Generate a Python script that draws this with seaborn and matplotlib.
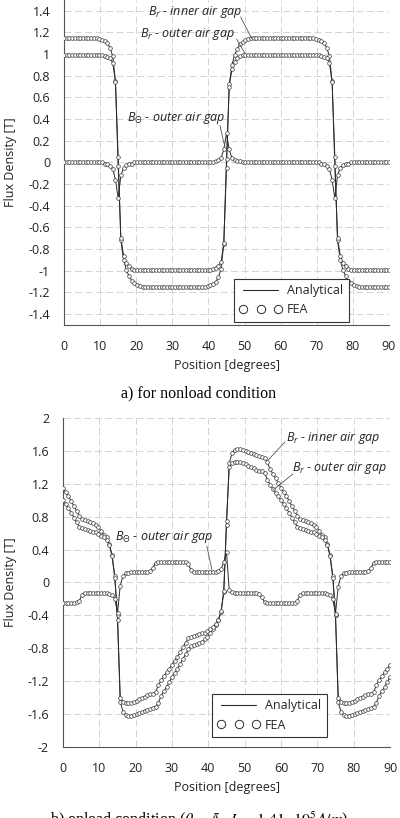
import numpy as np
import pandas as pd
import matplotlib
matplotlib.use("Agg")
import matplotlib.pyplot as plt
from matplotlib.lines import Line2D
from matplotlib.ticker import MultipleLocator, FixedLocator, FixedFormatter
import seaborn as sns

# field samples every 0.75 deg over one 90 deg section
position = np.arange(121) * 0.75

# a) nonload condition
br_inner_nl = [1.15, 1.15, 1.15, 1.15, 1.15, 1.15, 1.15, 1.15, 1.15, 1.15, 1.15, 1.15, 1.15,
               1.14, 1.13, 1.12, 1.10, 1.06, 0.98, 0.75,
               0.05,
               -0.72, -0.90, -0.99, -1.05, -1.09, -1.11, -1.13, -1.14,
               -1.15, -1.15, -1.15, -1.15, -1.15, -1.15, -1.15, -1.15, -1.15, -1.15, -1.15, -1.15,
               -1.15, -1.15, -1.15, -1.15, -1.15, -1.15, -1.15, -1.15, -1.15, -1.15, -1.15, -1.15,
               -1.14, -1.13, -1.12, -1.10, -1.06, -0.98, -0.75,
               -0.05,
               0.72, 0.90, 0.99, 1.05, 1.09, 1.11, 1.13, 1.14,
               1.15, 1.15, 1.15, 1.15, 1.15, 1.15, 1.15, 1.15, 1.15, 1.15, 1.15, 1.15,
               1.15, 1.15, 1.15, 1.15, 1.15, 1.15, 1.15, 1.15, 1.15, 1.15, 1.15, 1.15,
               1.14, 1.13, 1.12, 1.10, 1.06, 0.98, 0.75,
               0.05,
               -0.72, -0.90, -0.99, -1.05, -1.09, -1.11, -1.13, -1.14,
               -1.15, -1.15, -1.15, -1.15, -1.15, -1.15, -1.15, -1.15, -1.15, -1.15, -1.15, -1.15]
br_outer_nl = [0.99, 0.99, 0.99, 0.99, 0.99, 0.99, 0.99, 0.99, 0.99, 0.99, 0.99, 0.99, 0.99, 0.99, 0.99,
               0.98, 0.97, 0.96, 0.92, 0.74,
               -0.03,
               -0.70, -0.86, -0.93, -0.96, -0.98,
               -0.99, -0.99, -0.99, -0.99, -0.99, -0.99, -0.99, -0.99, -0.99, -0.99, -0.99, -0.99, -0.99, -0.99, -0.99,
               -0.99, -0.99, -0.99, -0.99, -0.99, -0.99, -0.99, -0.99, -0.99, -0.99, -0.99, -0.99, -0.99, -0.99,
               -0.98, -0.97, -0.96, -0.92, -0.74,
               0.03,
               0.70, 0.86, 0.93, 0.96, 0.98,
               0.99, 0.99, 0.99, 0.99, 0.99, 0.99, 0.99, 0.99, 0.99, 0.99, 0.99, 0.99, 0.99, 0.99, 0.99,
               0.99, 0.99, 0.99, 0.99, 0.99, 0.99, 0.99, 0.99, 0.99, 0.99, 0.99, 0.99, 0.99, 0.99,
               0.98, 0.97, 0.96, 0.92, 0.74,
               -0.03,
               -0.70, -0.86, -0.93, -0.96, -0.98,
               -0.99, -0.99, -0.99, -0.99, -0.99, -0.99, -0.99, -0.99, -0.99, -0.99, -0.99, -0.99, -0.99, -0.99, -0.99]
bt_outer_nl = [0.00, 0.00, 0.00, 0.00, 0.00, 0.00, 0.00, 0.00, 0.00, 0.00, 0.00, 0.00, 0.00, 0.00, 0.00,
               -0.01, -0.01, -0.03, -0.06, -0.16,
               -0.33,
               -0.12, -0.05, -0.02, -0.01, -0.01,
               0.00, 0.00, 0.00, 0.00, 0.00, 0.00, 0.00, 0.00, 0.00, 0.00, 0.00, 0.00, 0.00, 0.00, 0.00,
               0.00, 0.00, 0.00, 0.00, 0.00, 0.00, 0.00, 0.00, 0.00, 0.00, 0.00, 0.00, 0.00, 0.00,
               0.00, 0.01, 0.02, 0.04, 0.12,
               0.27,
               0.12, 0.04, 0.02, 0.01, 0.01,
               0.00, 0.00, 0.00, 0.00, 0.00, 0.00, 0.00, 0.00, 0.00, 0.00, 0.00, 0.00, 0.00, 0.00, 0.00,
               0.00, 0.00, 0.00, 0.00, 0.00, 0.00, 0.00, 0.00, 0.00, 0.00, 0.00, 0.00, 0.00, 0.00,
               -0.01, -0.01, -0.03, -0.06, -0.16,
               -0.33,
               -0.12, -0.05, -0.02, -0.01, -0.01,
               0.00, 0.00, 0.00, 0.00, 0.00, 0.00, 0.00, 0.00, 0.00, 0.00, 0.00, 0.00, 0.00, 0.00, 0.00]

# b) onload condition
br_inner_ld = [1.15, 1.10, 1.05, 0.99, 0.93, 0.87, 0.81, 0.77, 0.76, 0.75,
               0.74, 0.72, 0.70, 0.67, 0.63, 0.58, 0.55, 0.47, 0.33, 0.08,
               -0.45,
               -1.45, -1.57, -1.61, -1.62, -1.62, -1.61, -1.60, -1.59, -1.57, -1.56,
               -1.55, -1.54, -1.52, -1.51, -1.46, -1.38, -1.32, -1.27, -1.21, -1.15,
               -1.10, -1.05, -0.99, -0.93, -0.87, -0.81, -0.77, -0.76, -0.75, -0.74,
               -0.72, -0.69, -0.66, -0.62, -0.57, -0.52, -0.46, -0.36, -0.12,
               0.70,
               1.45, 1.57, 1.61, 1.62, 1.62, 1.61, 1.60, 1.59, 1.57, 1.56,
               1.55, 1.54, 1.52, 1.51, 1.46, 1.38, 1.32, 1.27, 1.21, 1.15,
               1.10, 1.05, 0.99, 0.93, 0.87, 0.81, 0.77, 0.76, 0.75, 0.74,
               0.72, 0.70, 0.67, 0.63, 0.58, 0.55, 0.47, 0.33, 0.08,
               -0.40,
               -1.45, -1.57, -1.61, -1.62, -1.62, -1.61, -1.60, -1.59, -1.57, -1.56,
               -1.55, -1.54, -1.52, -1.51, -1.46, -1.38, -1.32, -1.27, -1.21, -1.15]
br_outer_ld = [1.00, 0.95, 0.90, 0.85, 0.79, 0.73, 0.68, 0.66, 0.65, 0.64,
               0.63, 0.62, 0.61, 0.59, 0.57, 0.55, 0.52, 0.46, 0.32, 0.06,
               -0.40,
               -1.40, -1.45, -1.47, -1.47, -1.46, -1.45, -1.44, -1.42, -1.40, -1.39,
               -1.37, -1.36, -1.35, -1.33, -1.25, -1.19, -1.14, -1.09, -1.05, -1.00,
               -0.95, -0.90, -0.85, -0.79, -0.73, -0.68, -0.66, -0.65, -0.64, -0.63,
               -0.62, -0.61, -0.59, -0.57, -0.54, -0.50, -0.45, -0.35, -0.10,
               0.75,
               1.40, 1.45, 1.47, 1.47, 1.46, 1.45, 1.44, 1.42, 1.40, 1.39,
               1.37, 1.36, 1.35, 1.33, 1.25, 1.19, 1.14, 1.09, 1.05, 1.00,
               0.95, 0.90, 0.85, 0.79, 0.73, 0.68, 0.66, 0.65, 0.64, 0.63,
               0.62, 0.61, 0.59, 0.57, 0.55, 0.52, 0.46, 0.32, 0.06,
               -0.40,
               -1.40, -1.45, -1.47, -1.47, -1.46, -1.45, -1.44, -1.42, -1.40, -1.39,
               -1.37, -1.36, -1.35, -1.33, -1.25, -1.19, -1.14, -1.09, -1.05, -1.00]
bt_outer_ld = [-0.25, -0.25, -0.25, -0.25, -0.25, -0.24, -0.22, -0.15, -0.13, -0.13,
               -0.13, -0.13, -0.13, -0.13, -0.13, -0.13, -0.13, -0.14, -0.15, -0.20,
               -0.37,
               -0.04, 0.08, 0.11, 0.12, 0.13, 0.13, 0.13, 0.13, 0.13, 0.13,
               0.13, 0.14, 0.18, 0.24, 0.25, 0.25, 0.25, 0.25, 0.25, 0.25,
               0.25, 0.25, 0.25, 0.25, 0.25, 0.22, 0.15, 0.13, 0.13, 0.13,
               0.13, 0.13, 0.13, 0.13, 0.13, 0.13, 0.14, 0.16, 0.25,
               0.37,
               -0.09, -0.12, -0.13, -0.13, -0.13, -0.13, -0.13, -0.13, -0.13, -0.13,
               -0.13, -0.14, -0.18, -0.24, -0.25, -0.25, -0.25, -0.25, -0.25, -0.25,
               -0.25, -0.25, -0.25, -0.25, -0.25, -0.22, -0.15, -0.13, -0.13, -0.13,
               -0.13, -0.13, -0.13, -0.13, -0.13, -0.13, -0.14, -0.15, -0.20,
               -0.38,
               -0.05, 0.08, 0.11, 0.12, 0.13, 0.13, 0.13, 0.13, 0.13, 0.13,
               0.13, 0.14, 0.18, 0.24, 0.25, 0.25, 0.25, 0.25, 0.25, 0.25]

x_ticks = [0, 10, 20, 30, 40, 50, 60, 70, 80, 90]
y_ticks_nl = [-1.4, -1.2, -1.0, -0.8, -0.6, -0.4, -0.2, 0.0, 0.2, 0.4, 0.6, 0.8, 1.0, 1.2, 1.4]
y_labels_nl = ["-1.4", "-1.2", "-1", "-0.8", "-0.6", "-0.4", "-0.2", "0",
               "0.2", "0.4", "0.6", "0.8", "1", "1.2", "1.4"]
y_ticks_ld = [-2.0, -1.6, -1.2, -0.8, -0.4, 0.0, 0.4, 0.8, 1.2, 1.6, 2.0]
y_labels_ld = ["-2", "-1.6", "-1.2", "-0.8", "-0.4", "0", "0.4", "0.8", "1.2", "1.6", "2"]

sns.set_style("white")
plt.rcParams["font.family"] = ["Open Sans", "DejaVu Sans"]
plt.rcParams["axes.unicode_minus"] = False
plt.rcParams["mathtext.fontset"] = "custom"
plt.rcParams["mathtext.rm"] = "Open Sans"
plt.rcParams["mathtext.it"] = "Open Sans:italic"
plt.rcParams["lines.scale_dashes"] = False

INK = "#2b2b2b"
FS = 9


def draw_panel(ax, inner, outer, theta, ylim, yticks, ylabels, yminor, leg_anchor, notes):
    df = pd.DataFrame({"pos": position, "inner": inner, "outer": outer, "theta": theta})
    for col in ["inner", "outer", "theta"]:
        sns.lineplot(data=df, x="pos", y=col, ax=ax, color=INK, lw=0.7,
                     estimator=None, zorder=2)
        sns.scatterplot(data=df, x="pos", y=col, ax=ax, marker="o", s=7,
                        color="white", edgecolor="#3a3a3a", linewidth=0.5, zorder=3)

    ax.set_xlim(0, 90)
    ax.set_ylim(*ylim)
    ax.xaxis.set_major_locator(FixedLocator(x_ticks))
    ax.xaxis.set_minor_locator(MultipleLocator(5))
    ax.yaxis.set_major_locator(FixedLocator(yticks))
    ax.yaxis.set_major_formatter(FixedFormatter(ylabels))
    ax.yaxis.set_minor_locator(MultipleLocator(yminor))
    ax.grid(True, which="major", color="#d4d4d4", lw=0.7, ls=(0, (5, 2.5)))
    ax.set_axisbelow(True)
    for side in ["top", "right"]:
        ax.spines[side].set_visible(False)
    for side in ["left", "bottom"]:
        ax.spines[side].set_color("#555555")
        ax.spines[side].set_linewidth(0.8)
    ax.tick_params(axis="x", which="both", direction="out", length=7, width=0.8,
                   color="#555555", labelsize=FS, labelcolor="#222222", pad=4)
    ax.tick_params(axis="y", which="major", direction="out", length=7, width=0.8,
                   color="#555555", labelsize=FS, labelcolor="#222222", pad=3)
    ax.tick_params(axis="y", which="minor", direction="out", length=3.5, width=0.8,
                   color="#555555")
    ax.set_xlabel("Position [degrees]", fontsize=FS, color="#222222")
    ax.set_ylabel("Flux Density [T]", fontsize=FS, color="#222222")

    handles = [Line2D([0], [0], color=INK, lw=0.8),
               Line2D([0], [0], ls="none", marker="o", ms=6, mfc="white", mec=INK, mew=0.7)]
    leg = ax.legend(handles, ["Analytical", "FEA"], loc="lower left",
                    bbox_to_anchor=leg_anchor, borderaxespad=0, numpoints=3,
                    handlelength=3.4, handletextpad=0.4, fontsize=FS, frameon=True,
                    fancybox=False, framealpha=1, edgecolor="#333333",
                    borderpad=0.45, labelspacing=0.5)
    leg.get_frame().set_linewidth(0.8)

    for label, text_xy, line_start, line_end in notes:
        ax.annotate("", xy=line_end, xytext=line_start,
                    arrowprops=dict(arrowstyle="-", color="#555555", lw=0.6,
                                    shrinkA=0, shrinkB=0))
        ax.text(*text_xy, label, fontsize=FS, style="italic", ha="left", va="center",
                color="#222222")


fig = plt.figure(figsize=(4, 8.18), dpi=100)
ax1 = fig.add_axes([0.16, 0.6027, 0.8125, 0.3973])
ax2 = fig.add_axes([0.1575, 0.0868, 0.8175, 0.4022])

notes_nl = [(r"$B_r$ - inner air gap", (23.3, 1.39), (48.9, 1.343), (52.0, 1.144)),
            (r"$B_r$ - outer air gap", (21.0, 1.185), (47.8, 1.139), (50.1, 1.009)),
            (r"$B_\Theta$ - outer air gap", (17.4, 0.407), (43.2, 0.343), (44.3, 0.176))]
notes_ld = [(r"$B_r$ - inner air gap", (61.4, 1.76), (61.1, 1.709), (56.5, 1.49)),
            (r"$B_r$ - outer air gap", (63.0, 1.39), (63.3, 1.32), (57.8, 1.124)),
            (r"$B_\Theta$ - outer air gap", (14.3, 0.552), (39.6, 0.442), (41.0, 0.15))]

draw_panel(ax1, br_inner_nl, br_outer_nl, bt_outer_nl, (-1.5, 1.5),
           y_ticks_nl, y_labels_nl, 0.1, (0.523, 0.009), notes_nl)
draw_panel(ax2, br_inner_ld, br_outer_ld, bt_outer_ld, (-2, 2),
           y_ticks_ld, y_labels_ld, 0.2, (0.456, 0.030), notes_ld)

ax1.yaxis.set_label_coords(-0.145, 0.5)
ax2.yaxis.set_label_coords(-0.14, 0.5)
ax1.xaxis.set_label_coords(0.5, -0.105)
ax2.xaxis.set_label_coords(0.5, -0.104)

fig.text(0.4975, 1 - 393 / 818, "a) for nonload condition", ha="center", va="center",
         family="Liberation Serif", fontsize=11.5, color="black")
fig.text(0.4975, -0.004,
         r"b) onload condition ($\theta_s = \frac{\pi}{2}$, $J_s = 1.41 \cdot 10^5 A/m$)",
         ha="center", va="center", family="Liberation Serif", fontsize=11.5,
         math_fontfamily="stix", color="black")

fig.savefig("out.png", dpi=100)
